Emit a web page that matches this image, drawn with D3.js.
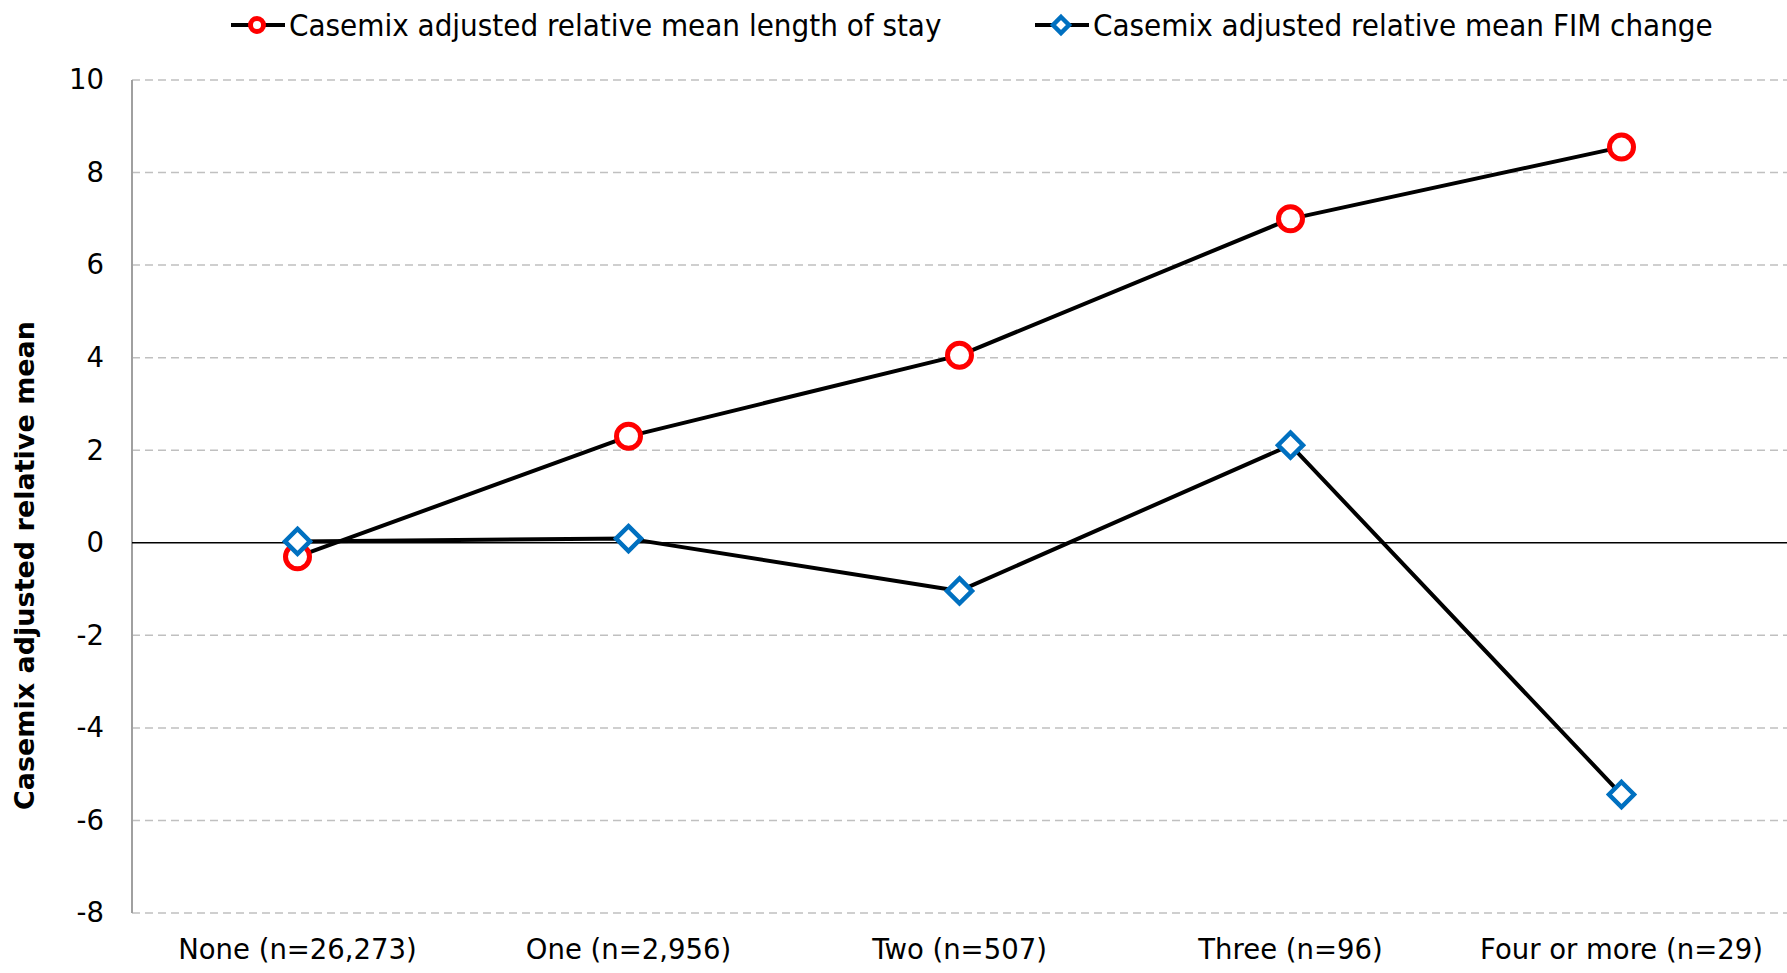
<!DOCTYPE html>
<html>
<head>
<meta charset="utf-8">
<script src="https://cdn.jsdelivr.net/npm/d3@7"></script>
<style>
  html, body { margin: 0; padding: 0; background: #fff; }
  svg { display: block; }
</style>
</head>
<body>
<svg id="chart" width="1787" height="973"></svg>
<script>
// Categories: number of complications, with group sizes
const categories = ["None (n=26,273)", "One (n=2,956)", "Two (n=507)", "Three (n=96)", "Four or more (n=29)"];
// Casemix adjusted relative mean length of stay
const losValues = [-0.3, 2.3, 4.05, 7.0, 8.55];
// Casemix adjusted relative mean FIM change
const fimValues = [0.03, 0.09, -1.04, 2.11, -5.44];
const yTicks = [10, 8, 6, 4, 2, 0, -2, -4, -6, -8];
const seriesNames = ["Casemix adjusted relative mean length of stay", "Casemix adjusted relative mean FIM change"];
const yTitle = "Casemix adjusted relative mean";

const svg = d3.select("#chart");
const plot = { left: 132, right: 1787, top: 80, bottom: 913 };

const x = d3.scaleBand().domain(categories).range([plot.left, plot.right]);
const y = d3.scaleLinear().domain([-8, 10]).range([plot.bottom, plot.top]);
const cx = c => x(c) + x.bandwidth() / 2;

// Horizontal dashed gridlines
svg.append("g").selectAll("line")
  .data(yTicks.filter(t => t !== 0))
  .join("line")
  .attr("x1", plot.left).attr("x2", plot.right)
  .attr("y1", d => y(d)).attr("y2", d => y(d))
  .attr("stroke", "#c0c0c0").attr("stroke-width", 1.5)
  .attr("stroke-dasharray", "8,5");

// Left axis line
svg.append("line")
  .attr("x1", plot.left).attr("x2", plot.left)
  .attr("y1", plot.top).attr("y2", plot.bottom)
  .attr("stroke", "#a0a0a0").attr("stroke-width", 2);

// Zero line
svg.append("line")
  .attr("x1", plot.left).attr("x2", plot.right)
  .attr("y1", y(0)).attr("y2", y(0))
  .attr("stroke", "#000").attr("stroke-width", 1.5);

// Y tick labels via d3 axis (plain hyphen for negatives)
const yAxis = d3.axisLeft(y).tickValues(yTicks).tickSize(0).tickPadding(28)
  .tickFormat(d => String(d));
const gy = svg.append("g").attr("transform", `translate(${plot.left},0)`).call(yAxis);
gy.select(".domain").remove();
gy.selectAll("text")
  .attr("font-family", "DejaVu Sans")
  .attr("font-size", 27.5)
  .attr("fill", "#000");

// X category labels via d3 axis
const xAxis = d3.axisBottom(x).tickSize(0).tickPadding(0);
const gx = svg.append("g").attr("transform", `translate(0,${plot.bottom})`).call(xAxis);
gx.select(".domain").remove();
gx.selectAll("text")
  .attr("font-family", "DejaVu Sans")
  .attr("font-size", 27.5)
  .attr("fill", "#000")
  .attr("dy", null)
  .attr("y", 46);

// Y axis title
svg.append("text")
  .attr("transform", `translate(34,${(plot.top + plot.bottom) / 2 + 69}) rotate(-90)`)
  .attr("text-anchor", "middle")
  .attr("font-family", "DejaVu Sans")
  .attr("font-weight", "bold")
  .attr("font-size", 27)
  .text(yTitle);

// Series lines
const line = d3.line().x((d, i) => cx(categories[i])).y(d => y(d));
[losValues, fimValues].forEach(vals => {
  svg.append("path")
    .attr("d", line(vals))
    .attr("fill", "none")
    .attr("stroke", "#000")
    .attr("stroke-width", 4)
    .attr("stroke-linejoin", "round");
});

const diamond = (px, py, r) => `M${px},${py - r}L${px + r},${py}L${px},${py + r}L${px - r},${py}Z`;

// Length of stay markers: hollow red circles
svg.append("g").selectAll("circle")
  .data(losValues)
  .join("circle")
  .attr("cx", (d, i) => cx(categories[i]))
  .attr("cy", d => y(d))
  .attr("r", 12)
  .attr("fill", "#fff")
  .attr("stroke", "#ff0000")
  .attr("stroke-width", 5);

// FIM change markers: hollow blue diamonds
svg.append("g").selectAll("path")
  .data(fimValues)
  .join("path")
  .attr("d", (d, i) => diamond(cx(categories[i]), y(d), 12.5))
  .attr("fill", "#fff")
  .attr("stroke", "#0070c0")
  .attr("stroke-width", 4.5)
  .attr("stroke-linejoin", "miter");

// Legend
const legendItems = [
  { name: seriesNames[0], x0: 231, type: "circle", color: "#ff0000" },
  { name: seriesNames[1], x0: 1035, type: "diamond", color: "#0070c0" }
];
const ly = 25;
legendItems.forEach(it => {
  const g = svg.append("g");
  g.append("line")
    .attr("x1", it.x0).attr("x2", it.x0 + 54)
    .attr("y1", ly).attr("y2", ly)
    .attr("stroke", "#000").attr("stroke-width", 4);
  const mx = it.x0 + 26;
  if (it.type === "circle") {
    g.append("circle").attr("cx", mx).attr("cy", ly).attr("r", 6.5)
      .attr("fill", "#fff").attr("stroke", it.color).attr("stroke-width", 5);
  } else {
    g.append("path").attr("d", diamond(mx, ly, 8))
      .attr("fill", "#fff").attr("stroke", it.color).attr("stroke-width", 4.5);
  }
  g.append("text")
    .attr("x", it.x0 + 58).attr("y", ly + 11)
    .attr("font-family", "DejaVu Sans Condensed")
    .attr("font-size", 31)
    .attr("fill", "#000")
    .text(it.name);
});
</script>
</body>
</html>
